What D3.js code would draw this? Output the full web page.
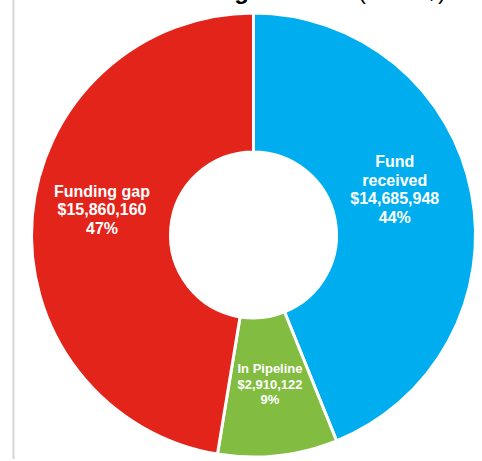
<!DOCTYPE html>
<html>
<head>
<meta charset="utf-8">
<script src="https://cdn.jsdelivr.net/npm/d3@7"></script>
<style>
  body { margin: 0; background: #fff; }
  svg { display: block; font-family: "Liberation Sans", Arial, sans-serif; }
</style>
</head>
<body>
<svg width="482" height="461"></svg>
<script>
// funding breakdown
const categories = ["Fund received", "In Pipeline", "Funding gap"];
const labelLines = [["Fund", "received"], ["In Pipeline"], ["Funding gap"]];
const amounts = [14685948, 2910122, 15860160];
const colors = ["#00AEEF", "#82BC41", "#E2241B"];

const svg = d3.select("svg");
const w = +svg.attr("width");
const h = +svg.attr("height");

// left border of the panel
svg.append("line")
  .attr("x1", 13.5).attr("x2", 13.5)
  .attr("y1", 0).attr("y2", 459)
  .attr("stroke", "#d6d6d6")
  .attr("stroke-width", 2);

// title, mostly cut off at the top of the frame (only descenders show)
const title = svg.append("text").attr("y", -1).attr("font-size", 24).attr("fill", "#000");
title.append("tspan").attr("x", 249).attr("text-anchor", "end").attr("font-weight", "bold").text("Overall Funding");
title.append("tspan").attr("x", 258).attr("font-weight", "bold").text("Status");
title.append("tspan").attr("x", 358).text("(in US$)");

const cx = 253.5, cy = 235;
const outerR = 222, innerR = 83;

const pie = d3.pie().sort(null).value(d => d);
const arcs = pie(amounts);
const total = d3.sum(amounts);

const arc = d3.arc().innerRadius(innerR).outerRadius(outerR);
const labelArc = d3.arc().innerRadius(150).outerRadius(150);

const g = svg.append("g").attr("transform", "translate(" + cx + "," + cy + ")");

g.selectAll("path")
  .data(arcs)
  .enter()
  .append("path")
  .attr("d", arc)
  .attr("fill", (d, i) => colors[i])
  .attr("stroke", "#fff")
  .attr("stroke-width", 3)
  .attr("stroke-linejoin", "round");

// small nudges so labels sit like the original (excel "best fit")
const nudge = [[-6, -17], [0, 0], [-2, -13]];
const fmt = d3.format("$,");

arcs.forEach((d, i) => {
  const c = labelArc.centroid(d);
  const lines = labelLines[i].concat([fmt(amounts[i]), Math.round(amounts[i] / total * 100) + "%"]);
  const small = i === 1;
  const fs = small ? 13 : 16;
  const lh = small ? 15.5 : 18.5;
  const x = c[0] + nudge[i][0];
  const y0 = c[1] + nudge[i][1] - (lines.length - 1) / 2 * lh;
  const t = g.append("text")
    .attr("text-anchor", "middle")
    .attr("font-size", fs)
    .attr("font-weight", "bold")
    .attr("fill", "#fff");
  lines.forEach((s, k) => {
    t.append("tspan")
      .attr("x", x)
      .attr("y", y0 + k * lh)
      .attr("dy", "0.35em")
      .text(s);
  });
});
</script>
</body>
</html>
